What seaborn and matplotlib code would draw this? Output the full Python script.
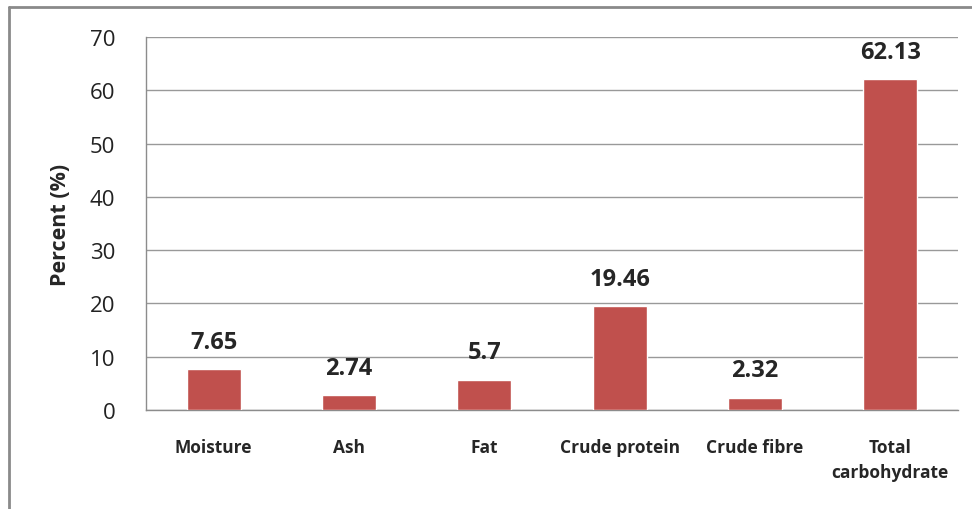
import matplotlib
matplotlib.use('Agg')
import matplotlib.pyplot as plt
from matplotlib.lines import Line2D
import seaborn as sns
import pandas as pd

categorias = ['Moisture', 'Ash', 'Fat', 'Crude protein', 'Crude fibre', 'Total\ncarbohydrate']
valores = [7.65, 2.74, 5.7, 19.46, 2.32, 62.13]
rotulos = ['7.65', '2.74', '5.7', '19.46', '2.32', '62.13']
marcas_y = [0, 10, 20, 30, 40, 50, 60, 70]

sns.set_style('white')
plt.rcParams['font.family'] = ['Open Sans', 'DejaVu Sans']

df = pd.DataFrame({'componente': categorias, 'percentual': valores})

fig = plt.figure(figsize=(9.72, 5.10), dpi=100)
ax = fig.add_axes([146 / 972, 1 - 411 / 510, (958 - 146) / 972, (411 - 38) / 510])

sns.barplot(data=df, x='componente', y='percentual', color='#C0504D', width=0.4,
            saturation=1, ax=ax, zorder=3)

ax.set_ylim(0, 70)
ax.set_yticks(marcas_y)
ax.yaxis.grid(True, color='#999999', linewidth=1, zorder=0)
ax.set_axisbelow(True)

for lado in ['top', 'right']:
    ax.spines[lado].set_visible(False)
for lado in ['left', 'bottom']:
    ax.spines[lado].set_color('#8c8c8c')
    ax.spines[lado].set_linewidth(1)

ax.tick_params(axis='y', length=0, pad=22, labelsize=16, labelcolor='#222222')
ax.tick_params(axis='x', length=0, pad=20, labelsize=12.5)
for t in ax.get_xticklabels():
    t.set_fontweight('bold')
    t.set_linespacing(1.55)

ax.set_xlabel('')
ax.set_ylabel('Percent (%)', fontsize=15.5, fontweight='bold', labelpad=14)

for i, (v, r) in enumerate(zip(valores, rotulos)):
    ax.annotate(r, (i, v), xytext=(0, 11), textcoords='offset points',
                ha='center', va='bottom', fontsize=17, fontweight='bold')

# moldura externa (só esquerda e topo aparecem)
fig.add_artist(Line2D([8.5 / 972, 8.5 / 972], [0, 1 - 8 / 510], transform=fig.transFigure,
                      color='#8a8a8a', linewidth=2))
fig.add_artist(Line2D([8.5 / 972, 1], [1 - 8 / 510, 1 - 8 / 510], transform=fig.transFigure,
                      color='#8a8a8a', linewidth=2))

fig.savefig('out.png', dpi=100)
